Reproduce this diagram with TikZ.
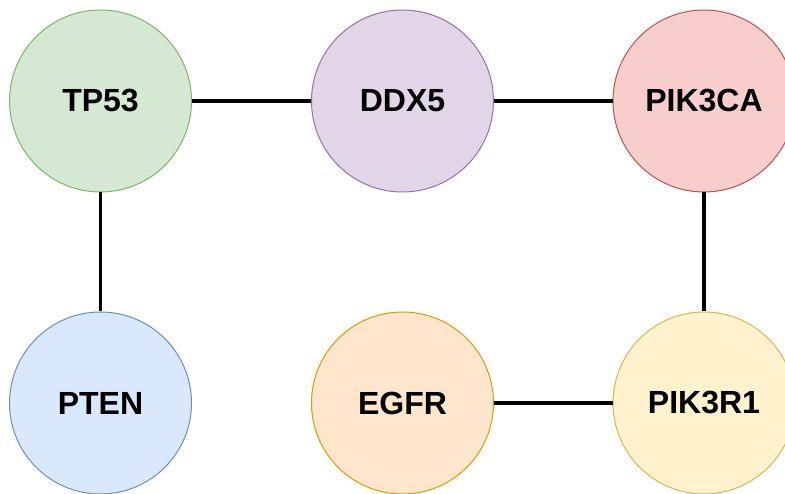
\documentclass[tikz,border=0pt]{standalone}
\usepackage{fontspec}
\setmainfont{Liberation Sans}
\definecolor{gfill}{HTML}{D5E8D4}\definecolor{gline}{HTML}{82B366}
\definecolor{pfill}{HTML}{E1D5E7}\definecolor{pline}{HTML}{9673A6}
\definecolor{rfill}{HTML}{F8CECC}\definecolor{rline}{HTML}{B85450}
\definecolor{bfill}{HTML}{DAE8FC}\definecolor{bline}{HTML}{6C8EBF}
\definecolor{ofill}{HTML}{FFE6CC}\definecolor{oline}{HTML}{D79B00}
\definecolor{yfill}{HTML}{FFF2CC}\definecolor{yline}{HTML}{D6B656}
\begin{document}
\begin{tikzpicture}[x=1pt,y=-1pt,
  gene/.style={circle,minimum size=182pt,inner sep=0pt,line width=1pt,
    font=\fontsize{32}{38}\selectfont\bfseries},
  link/.style={line width=3.5pt,black}]
\useasboundingbox (0,0) rectangle (785,494);
\clip (0,0) rectangle (785,494);
\node[gene,fill=gfill,draw=gline] (tp53) at (100.5,101) {TP53};
\node[gene,fill=pfill,draw=pline] (ddx5) at (402.5,101) {DDX5};
\node[gene,fill=rfill,draw=rline] (pik3ca) at (704,101) {PIK3CA};
\node[gene,fill=bfill,draw=bline] (pten) at (100.5,403) {PTEN};
\node[gene,fill=ofill,draw=oline] (egfr) at (402.5,403) {EGFR};
\node[gene,fill=yfill,draw=yline] (pik3r1) at (704,403) {PIK3R1};
\draw[link] (tp53) -- (ddx5);
\draw[link] (ddx5) -- (pik3ca);
\draw[link] (tp53) -- (pten);
\draw[link] (pik3ca) -- (pik3r1);
\draw[link] (egfr) -- (pik3r1);
\end{tikzpicture}
\end{document}
